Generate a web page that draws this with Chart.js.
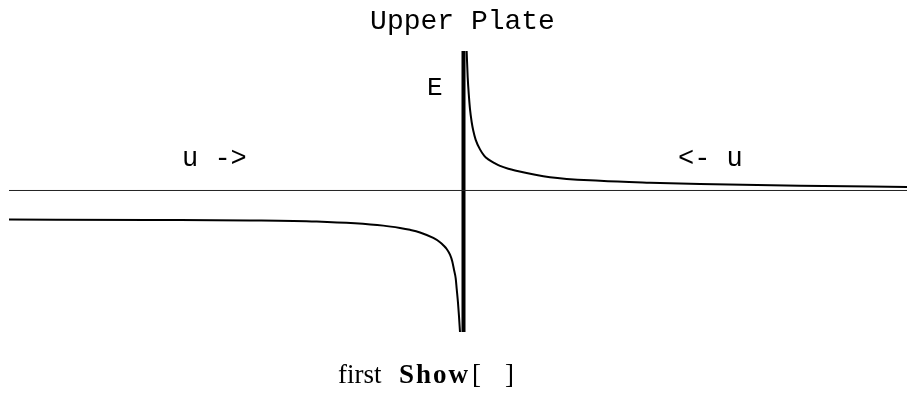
<!DOCTYPE html>
<html>
<head>
<meta charset="utf-8">
<script src="https://cdn.jsdelivr.net/npm/chart.js@4.4.1/dist/chart.umd.min.js"></script>
<style>
  html, body { margin: 0; padding: 0; background: #fff; }
  #wrap { width: 907px; height: 400px; position: relative; }
</style>
</head>
<body>
<div id="wrap"><canvas id="c"></canvas></div>
<script>
// Field on each side of the charged plate: distance from the plate and field value
const rightX = [0.0315, 0.042, 0.055, 0.065, 0.082, 0.098, 0.122, 0.165, 0.208, 0.248, 0.315, 0.365, 0.448, 0.515, 0.865, 1.365, 1.865, 2.365, 3.365, 4.435];
const rightE = [1.39, 1.127, 0.93, 0.81, 0.68, 0.595, 0.505, 0.41, 0.345, 0.31, 0.27, 0.245, 0.217, 0.20, 0.133, 0.097, 0.078, 0.065, 0.047, 0.035];
const leftX = [-4.545, -3.135, -2.135, -1.468, -0.802, -0.635, -0.535, -0.435, -0.302, -0.235, -0.202, -0.168, -0.135, -0.112, -0.095, -0.078, -0.068, -0.055, -0.045, -0.035];
const leftE = [-0.29, -0.294, -0.298, -0.31, -0.35, -0.373, -0.392, -0.418, -0.473, -0.515, -0.545, -0.583, -0.64, -0.707, -0.79, -0.875, -0.98, -1.12, -1.255, -1.41];

// The plate itself and the zero line
const plateX = [0, 0];
const plateY = [-1.41, 1.39];
const axisX = [-4.545, 4.435];
const axisY = [0, 0];

// Text
const titleText = 'Upper Plate';
const fieldLabel = 'E';
const flowLabels = ['u ->', '<- u'];
const captionParts = ['first', 'Show', '[', ']'];

const toPoints = (xs, ys) => xs.map((x, i) => ({ x: x, y: ys[i] }));

const textPlugin = {
  id: 'plateText',
  afterDatasetsDraw(chart) {
    const ctx = chart.ctx;
    ctx.save();
    ctx.fillStyle = '#000';
    ctx.textBaseline = 'alphabetic';

    ctx.font = '28px "Liberation Mono", "DejaVu Sans Mono", monospace';
    ctx.textAlign = 'center';
    ctx.fillText(titleText, 462.5, 29);

    ctx.textAlign = 'left';
    ctx.font = '26px "Liberation Mono", "DejaVu Sans Mono", monospace';
    ctx.fillText(fieldLabel, 427, 95);
    ctx.font = '27px "Liberation Mono", "DejaVu Sans Mono", monospace';
    ctx.fillText(flowLabels[0], 182, 166);
    ctx.fillText(flowLabels[1], 678, 166);

    ctx.font = '27px "Liberation Serif", "DejaVu Serif", serif';
    ctx.fillText(captionParts[0], 338, 383);
    ctx.font = 'bold 27px "Liberation Serif", "DejaVu Serif", serif';
    ctx.letterSpacing = '2px';
    ctx.fillText(captionParts[1], 399, 383);
    ctx.letterSpacing = '0px';
    ctx.font = '27px "Liberation Serif", "DejaVu Serif", serif';
    ctx.fillText(captionParts[2], 472, 383);
    ctx.fillText(captionParts[3], 505, 383);
    ctx.restore();
  }
};

new Chart(document.getElementById('c'), {
  type: 'line',
  data: {
    datasets: [
      {
        data: toPoints(axisX, axisY),
        borderColor: '#222',
        borderWidth: 1,
        pointRadius: 0
      },
      {
        data: toPoints(leftX, leftE),
        borderColor: '#000',
        borderWidth: 2,
        pointRadius: 0,
        cubicInterpolationMode: 'monotone'
      },
      {
        data: toPoints(rightX, rightE),
        borderColor: '#000',
        borderWidth: 2,
        pointRadius: 0,
        cubicInterpolationMode: 'monotone'
      },
      {
        data: toPoints(plateX, plateY),
        borderColor: '#000',
        borderWidth: 4,
        pointRadius: 0
      }
    ]
  },
  options: {
    responsive: true,
    maintainAspectRatio: false,
    animation: false,
    layout: { padding: { left: 9, right: 0, top: 51, bottom: 68 } },
    scales: {
      x: { type: 'linear', min: -4.545, max: 4.435, display: false },
      y: { type: 'linear', min: -1.41, max: 1.39, display: false }
    },
    plugins: {
      legend: { display: false },
      tooltip: { enabled: false },
      title: { display: false }
    }
  },
  plugins: [textPlugin]
});
</script>
</body>
</html>
